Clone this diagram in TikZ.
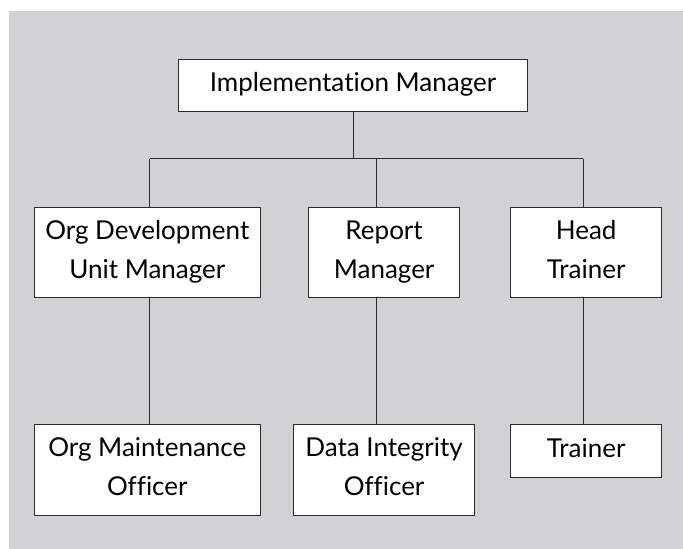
\documentclass[tikz,border=0pt]{standalone}
\usepackage{fontspec}
\setmainfont{Lato}[Ligatures=NoCommon]
\usetikzlibrary{positioning}
\definecolor{panelgray}{HTML}{D1D2D4}
\definecolor{linegray}{HTML}{2B2B2B}

\begin{document}
\begin{tikzpicture}
[x=1pt,y=-1pt,every node/.style={rectangle,draw=linegray,line width=0.9pt,fill=white,align=center,inner sep=0pt,text depth=6pt,font=\fontsize{26}{39}\selectfont},
 link/.style={draw=linegray,line width=0.9pt}]

\useasboundingbox (0,0) rectangle (683,549);
\fill[panelgray] (8.7,10.7) rectangle (683,549);

% top
\node[minimum width=349.4pt,minimum height=51.7pt] (IM) at (353,85.2) {Implementation Manager};
% middle row
\node[minimum width=226pt,minimum height=90pt] (OD) at (147.3,252.3) {Org Development\\Unit Manager};
\node[minimum width=151pt,minimum height=90pt,right=47.4pt of OD] (RM) {Report\\Manager};
\node[minimum width=150.7pt,minimum height=90pt,right=50.3pt of RM] (HT) {Head\\Trainer};
% bottom row
\node[minimum width=226pt,minimum height=91pt,below=126pt of OD] (OM) {Org Maintenance\\Officer};
\node[minimum width=181.4pt,minimum height=91pt,below=126pt of RM] (DI) {Data Integrity\\Officer};
\node[minimum width=150.7pt,minimum height=53.4pt,below=126pt of HT] (TR) {Trainer};

\coordinate (busL) at (149.7,158.7);
\coordinate (busM) at (376.3,158.7);
\coordinate (busR) at (583.3,158.7);
\draw[link] (IM.south) -- (IM.south |- busL);
\draw[link] (busL) -- (busR);
\draw[link] (busL) -- (busL |- OD.north);
\draw[link] (busM) -- (busM |- RM.north);
\draw[link] (busR) -- (busR |- HT.north);
\draw[link] (OD.south -| busL) -- (busL |- OM.north);
\draw[link] (RM.south -| busM) -- (busM |- DI.north);
\draw[link] (HT.south -| busR) -- (busR |- TR.north);
\end{tikzpicture}
\end{document}
